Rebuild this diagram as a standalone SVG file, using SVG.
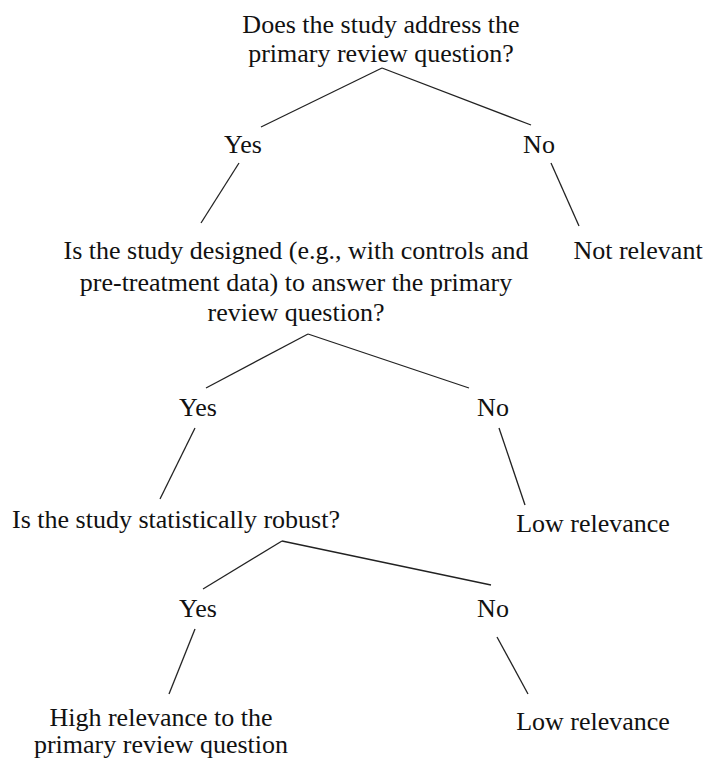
<svg xmlns="http://www.w3.org/2000/svg" width="707" height="762" viewBox="0 0 707 762">
<style>
text{font-family:"Liberation Serif","Times New Roman",serif;font-size:26px;fill:#111;text-anchor:middle}
.c line{stroke:#222;stroke-width:1.3;fill:none}
</style>
<rect width="707" height="762" fill="#fff"/>
<g id="q1"><text x="381" y="33">Does the study address the</text><text x="381" y="62">primary review question?</text></g>
<g id="yes1"><text x="243" y="153">Yes</text></g>
<g id="no1"><text x="539" y="153">No</text></g>
<g id="q2"><text x="296" y="259">Is the study designed (e.g., with controls and</text><text x="296" y="291">pre-treatment data) to answer the primary</text><text x="296" y="321">review question?</text></g>
<g id="notrel"><text x="638" y="259">Not relevant</text></g>
<g id="yes2"><text x="198" y="416">Yes</text></g>
<g id="no2"><text x="493" y="416">No</text></g>
<g id="q3"><text x="176" y="528">Is the study statistically robust?</text></g>
<g id="low1"><text x="593" y="532">Low relevance</text></g>
<g id="yes3"><text x="198" y="617">Yes</text></g>
<g id="no3"><text x="493" y="617">No</text></g>
<g id="high"><text x="161" y="726">High relevance to the</text><text x="161" y="753">primary review question</text></g>
<g id="low2"><text x="593" y="730">Low relevance</text></g>
<g class="c" id="connectors">
<line x1="382" y1="68" x2="261" y2="127"/>
<line x1="382" y1="68" x2="531" y2="125"/>
<line x1="239" y1="163" x2="201" y2="223"/>
<line x1="551" y1="163" x2="579" y2="226"/>
<line x1="308" y1="334" x2="206" y2="388"/>
<line x1="308" y1="334" x2="469" y2="388"/>
<line x1="195" y1="428" x2="160" y2="499"/>
<line x1="499" y1="428" x2="525" y2="505"/>
<line x1="282" y1="541" x2="203" y2="589"/>
<line x1="282" y1="541" x2="491" y2="585"/>
<line x1="195" y1="629" x2="169" y2="694"/>
<line x1="497" y1="637" x2="528" y2="694"/>
</g>
</svg>
